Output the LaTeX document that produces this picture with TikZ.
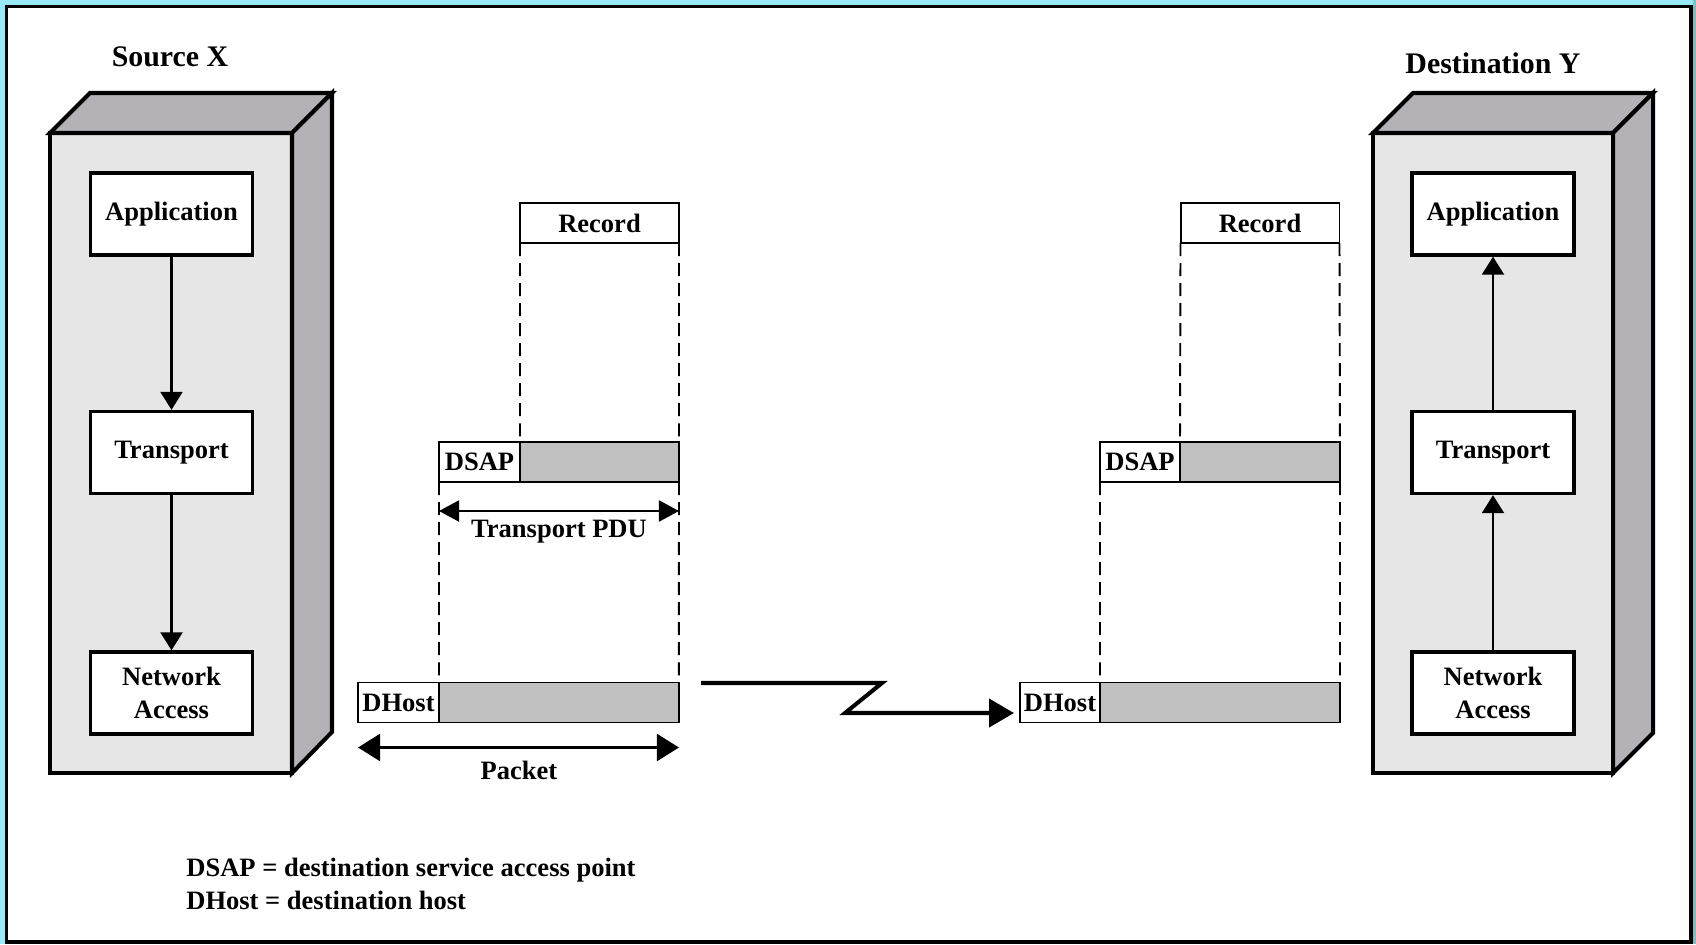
\documentclass[tikz,border=0pt]{standalone}
\usepackage{fontspec}
\setmainfont{Liberation Serif}
\usetikzlibrary{arrows.meta,calc}

\definecolor{cyanbg}{HTML}{98E8F5}
\definecolor{tealbg}{HTML}{7ABFC4}
\definecolor{facegray}{HTML}{E6E6E6}
\definecolor{sidegray}{HTML}{B4B2B6}
\definecolor{barfill}{HTML}{C0C0C0}

\begin{document}
\begin{tikzpicture}[x=0.02cm, y=-0.02cm,
  lbl/.style={font=\fontsize{15.1}{18.7}\selectfont\bfseries},
  title/.style={font=\fontsize{17}{20}\selectfont\bfseries},
  layer/.style={lbl, draw, fill=white, line width=1.9pt, minimum width=3.24cm,
    minimum height=1.64cm, align=center, inner sep=0pt},
  cell/.style={lbl, draw, line width=1.1pt, minimum height=0.8cm, inner sep=0pt, outer sep=0pt},
  hdr/.style={cell, fill=white, minimum width=1.62cm},
  body/.style={cell, fill=barfill},
  recbox/.style={cell, fill=white, minimum width=3.18cm},
  legend/.style={lbl, anchor=base west, inner sep=0pt},
  guide/.style={line width=1.1pt, dash pattern=on 7.4pt off 4pt},
  flow/.style={line width=1.2pt, -{Triangle[width=0.44cm,length=0.36cm]}},
  dimsmall/.style={line width=1.2pt, {Triangle[width=0.42cm,length=0.4cm]}-{Triangle[width=0.42cm,length=0.4cm]}},
  dimlarge/.style={line width=1.2pt, {Triangle[width=0.54cm,length=0.44cm]}-{Triangle[width=0.54cm,length=0.44cm]}},
  bolt/.style={line width=2.3pt, -{Triangle[width=0.56cm,length=0.5cm]}},
  frontface/.style={draw, fill=facegray, line width=2.3pt},
  sideface/.style={draw, fill=sidegray, line width=2.3pt},
]
\useasboundingbox (0,0) rectangle (1696,944);

% page frame
\fill[cyanbg] (0,0) rectangle (1696,944);
\fill[tealbg] (1693,0) rectangle (1696,944);
\draw[line width=2pt, fill=white] (6.5,6.5) rectangle (1691,942);

% ---- Source X host ----
\draw[frontface] (50,133) rectangle (292,773);
\draw[sideface] (50,133) -- (90,93) -- (332,93) -- (292,133) -- cycle;
\draw[sideface] (292,133) -- (332,93) -- (332,732) -- (292,773) -- cycle;
\node[title, anchor=base] (srcname) at (170,66) {Source X};

\node[layer] (sapp) at (171.5,214) {Application};
\node[layer] (strn) at (171.5,452.5) {Transport};
\node[layer] (snet) at (171.5,693) {Network\\Access};
\draw[flow] (sapp) -- (strn);
\draw[flow] (strn) -- (snet);

% ---- Destination Y host ----
\draw[frontface] (1373,133) rectangle (1613,773);
\draw[sideface] (1373,133) -- (1413,93) -- (1653,93) -- (1613,133) -- cycle;
\draw[sideface] (1613,133) -- (1653,93) -- (1653,733) -- (1613,773) -- cycle;
\node[title, anchor=base] (dstname) at (1493,73) {Destination Y};

\node[layer] (dapp) at (1493,214) {Application};
\node[layer] (dtrn) at (1493,452.5) {Transport};
\node[layer] (dnet) at (1493,693) {Network\\Access};
\draw[flow] (dnet) -- (dtrn);
\draw[flow] (dtrn) -- (dapp);

% ---- sender side encapsulation ----
\node[recbox] (srec) at (599.5,223) {Record};
\node[hdr] (sdsaph) at (479.5,462) {DSAP};
\node[body, minimum width=3.18cm, anchor=west] (sdsapb) at (sdsaph.east) {};
\node[hdr] (sdhh) at (398.5,702.5) {DHost};
\node[body, minimum width=4.8cm, anchor=west] (sdhb) at (sdhh.east) {};

\draw[guide] (srec.south west) -- (sdsapb.north west);
\draw[guide] (srec.south east) -- (sdsapb.north east);
\draw[guide] (sdsaph.south west) -- (sdhb.north west);
\draw[guide] (sdsapb.south east) -- (sdhb.north east);

\coordinate (pduL) at ($(sdsaph.south west)+(0,29)$);
\coordinate (pduR) at ($(sdsapb.south east)+(0,29)$);
\draw[dimsmall] (pduL) -- (pduR);
\node[lbl] (pdulbl) at (559,532) {Transport PDU};

\coordinate (pktL) at ($(sdhh.south west)+(0,25)$);
\coordinate (pktR) at ($(sdhb.south east)+(0,25)$);
\draw[dimlarge] (pktL) -- (pktR);
\node[lbl] (pktlbl) at (519,770) {Packet};

% ---- receiver side ----
\node[recbox] (drec) at (1260,223) {Record};
\node[hdr, minimum width=1.6cm] (ddsaph) at (1140,462) {DSAP};
\node[body, minimum width=3.2cm, anchor=west] (ddsapb) at (ddsaph.east) {};
\node[hdr, minimum width=1.6cm] (ddhh) at (1060,702.5) {DHost};
\node[body, minimum width=4.8cm, anchor=west] (ddhb) at (ddhh.east) {};

\draw[guide] (drec.south west) -- (ddsapb.north west);
\draw[guide] (drec.south east) -- (ddsapb.north east);
\draw[guide] (ddsaph.south west) -- (ddhb.north west);
\draw[guide] (ddsapb.south east) -- (ddhb.north east);

% ---- transmission link ----
\coordinate (linkA) at (701,683);
\coordinate (linkB) at ($(ddhh.west)+(-6,10.5)$);
\draw[bolt] (linkA) -- (882,683) -- (845,713) -- (linkB);

% ---- legend ----
\node[legend] (leg1) at (186,876) {DSAP = destination service access point};
\node[legend] (leg2) at (186,909) {DHost = destination host};
\end{tikzpicture}
\end{document}
